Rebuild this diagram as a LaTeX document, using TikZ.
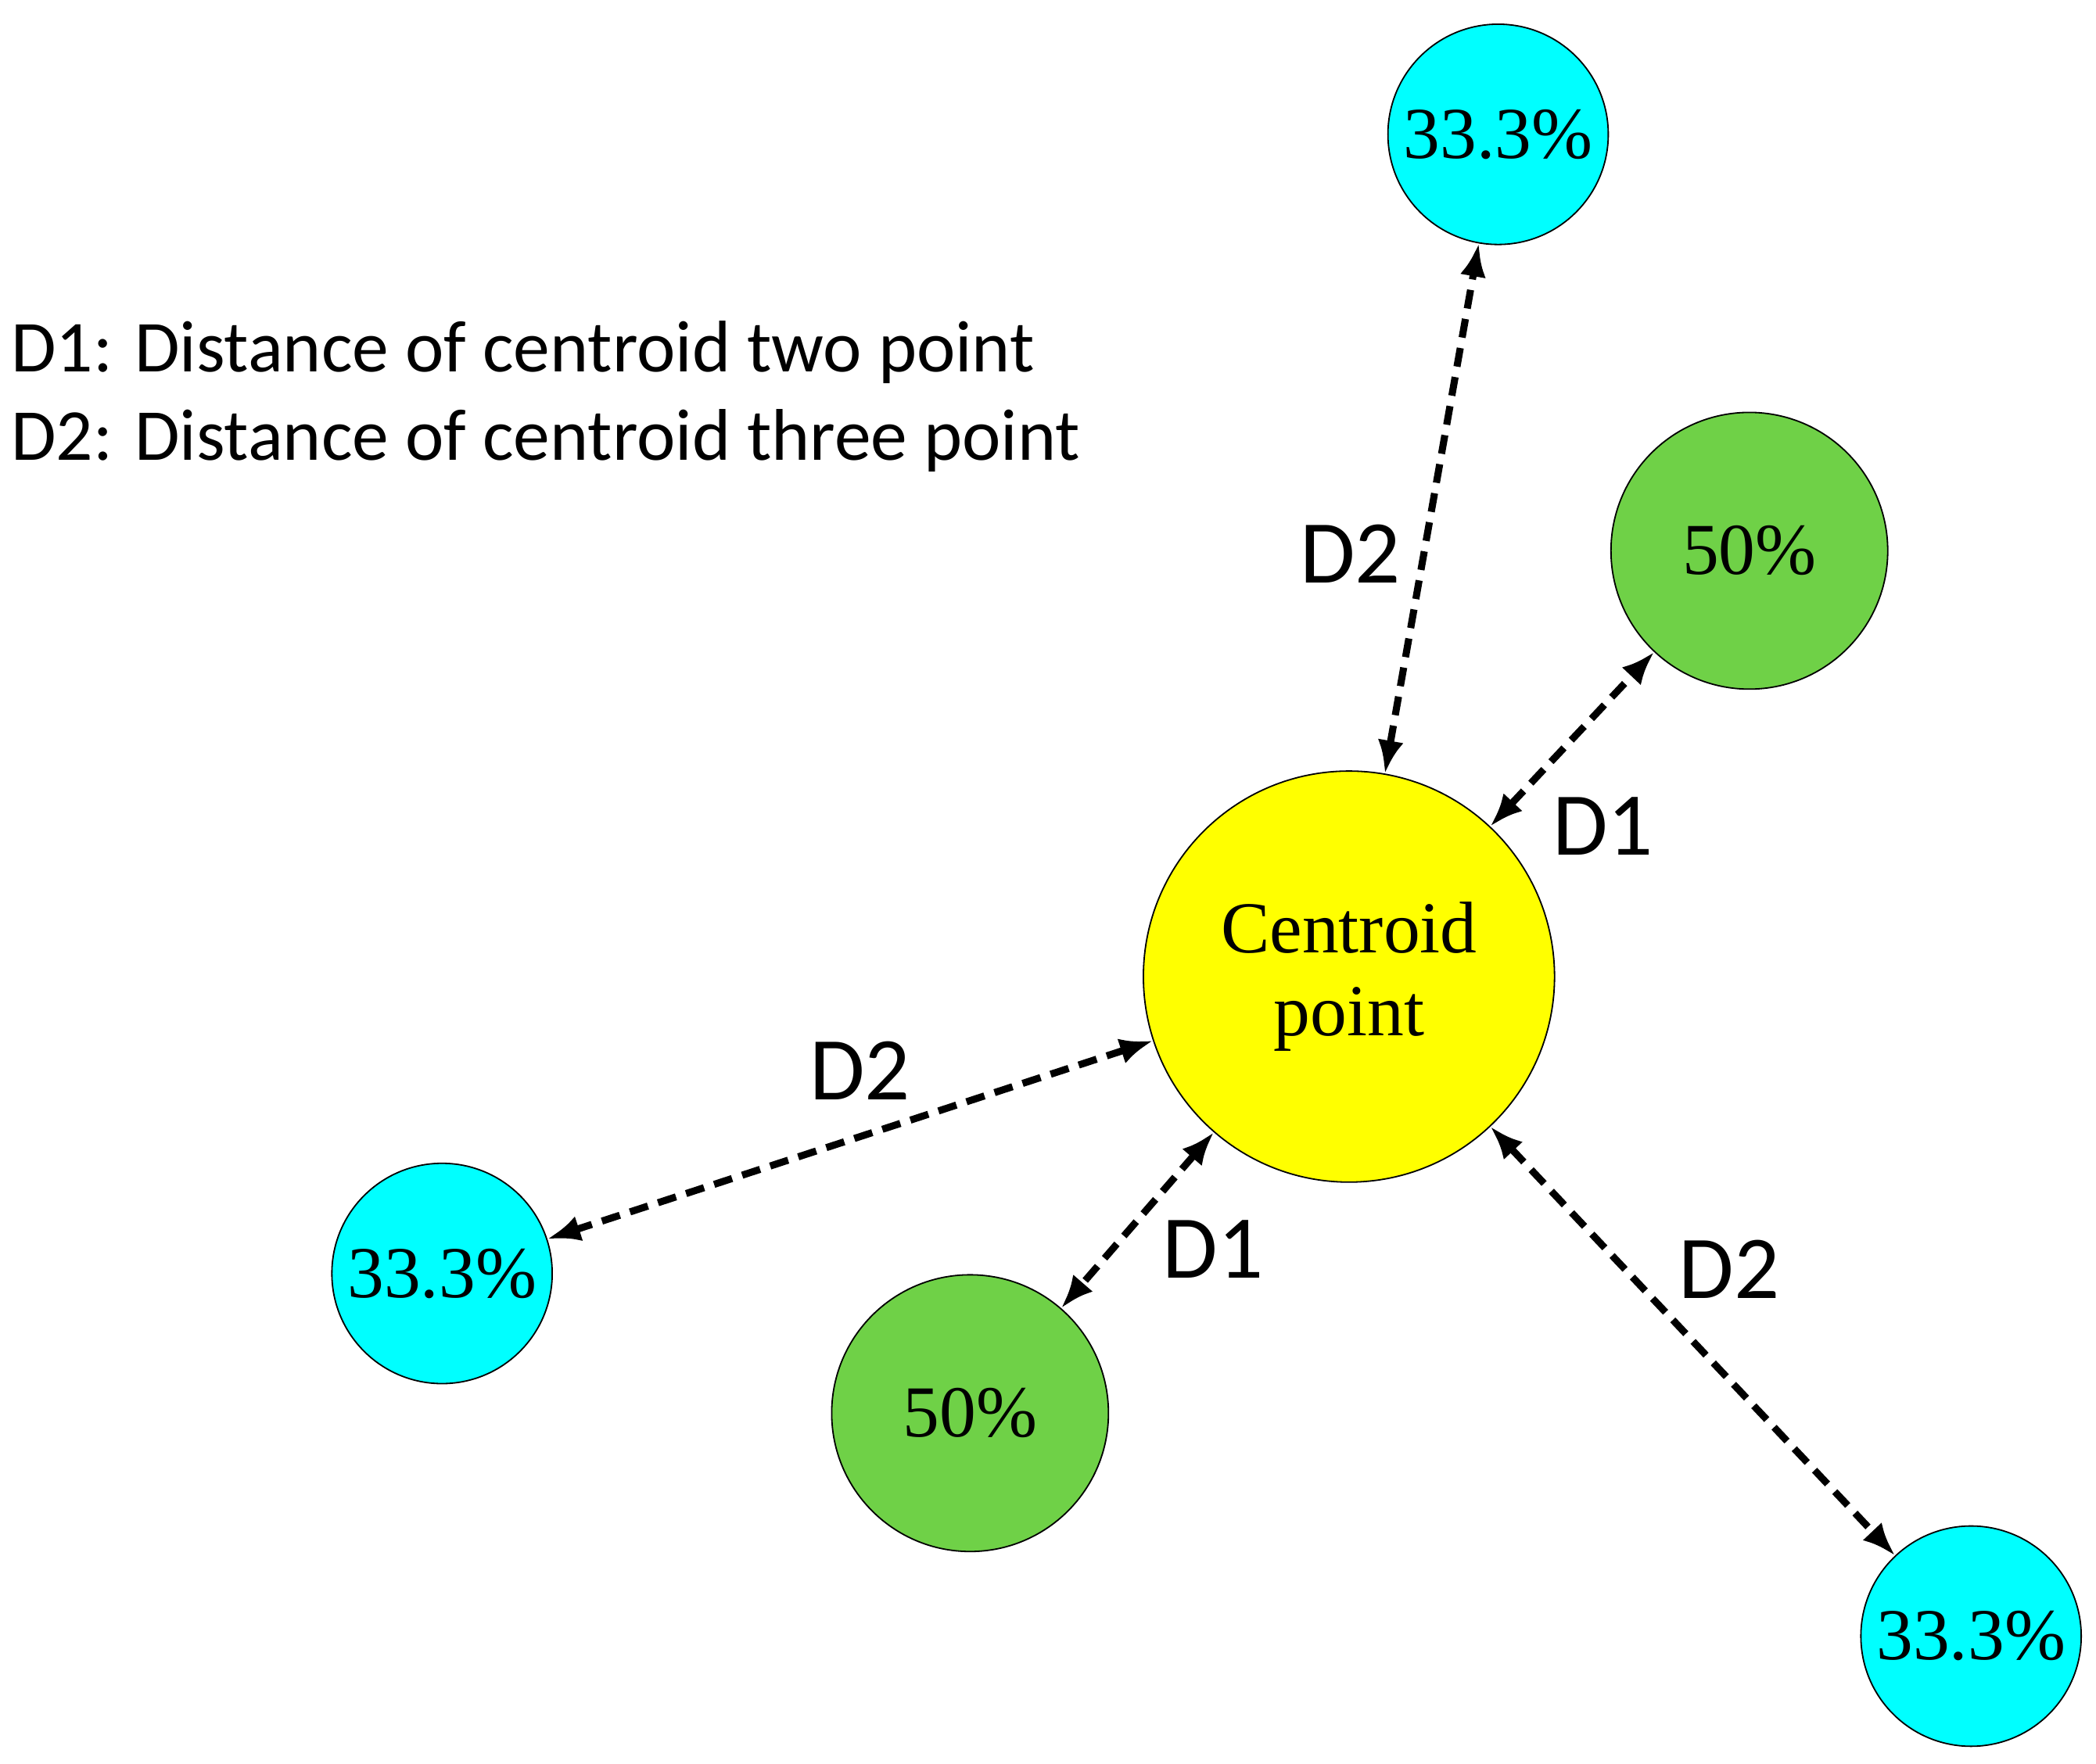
\documentclass[tikz,border=0pt]{standalone}
\usepackage{fontspec}
\setmainfont{Liberation Serif}
\newfontfamily\lab{Carlito}
\usetikzlibrary{arrows.meta}
\definecolor{cy}{HTML}{00FFFF}
\definecolor{gr}{HTML}{6FD147}
\definecolor{ye}{HTML}{FFFF00}
\begin{document}
\begin{tikzpicture}[x=0.02cm,y=-0.02cm,
 ball/.style={circle,draw=black,line width=0.6pt,inner sep=0pt,font=\fontsize{31}{35}\selectfont,align=center},
 small/.style={ball,fill=cy,minimum size=164*0.02cm},
 mid/.style={ball,fill=gr,minimum size=206*0.02cm},
 con/.style={line width=3pt,dash pattern=on 8pt off 4.5pt,{Latex[length=14pt,width=11pt]}-{Latex[length=14pt,width=11pt]}},
 dl/.style={font=\lab\fontsize{38}{40}\selectfont},
 leg/.style={font=\lab\fontsize{31}{36}\selectfont,anchor=west}]
\useasboundingbox (0,0) rectangle (1560,1313);
\node[ball,fill=ye,minimum size=306*0.02cm] (c) at (1004,727) {Centroid\\point};
\node[small] (t) at (1115,100) {33.3\%};
\node[mid] (g1) at (1302,410) {50\%};
\node[small] (l) at (329,948) {33.3\%};
\node[mid] (g2) at (722,1052) {50\%};
\node[small] (b) at (1467,1218) {33.3\%};
\draw[con] (c) -- (t);
\draw[con] (c) -- (g1);
\draw[con] (c) -- (l);
\draw[con] (c) -- (g2);
\draw[con] (c) -- (b);
\node[dl] (d2a) at (1005,412) {D2};
\node[dl] (d1a) at (1193,615) {D1};
\node[dl] (d2b) at (640,797) {D2};
\node[dl] (d1b) at (903,930) {D1};
\node[dl] (d2c) at (1287,945) {D2};
\node[leg] (l1) at (2,262) {D1: Distance of centroid two point};
\node[leg] (l2) at (2,328) {D2: Distance of centroid three point};
\end{tikzpicture}
\end{document}
